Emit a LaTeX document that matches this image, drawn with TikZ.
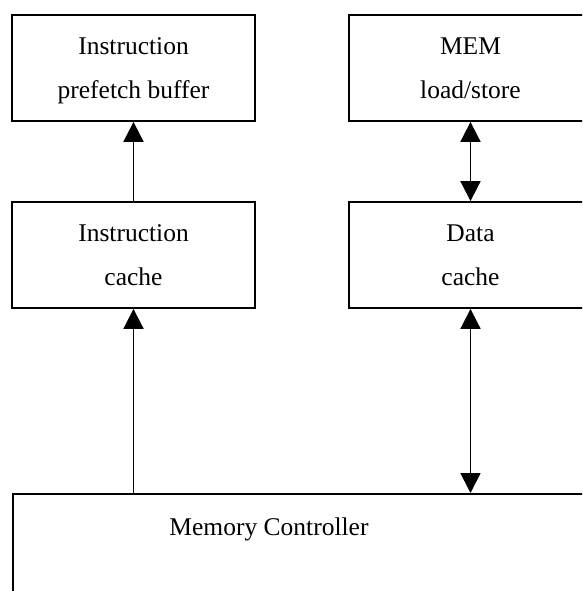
\documentclass[tikz,border=0pt]{standalone}
\usepackage{fontspec}
\setmainfont{Liberation Serif}
\usetikzlibrary{arrows.meta}
\begin{document}
\begin{tikzpicture}[x=1pt,y=1pt,
  blk/.style={draw, line width=1.8pt, minimum width=243pt, minimum height=106pt, inner sep=0pt, align=center, font=\fontsize{25.5}{44}\selectfont},
  conn/.style={line width=1.8pt},
  tip/.tip={Triangle[width=20pt,length=20pt]}]
\useasboundingbox (0,0) rectangle (582,-591);
\clip (0,0) rectangle (582,-591);
\node[blk] (ip) at (133.5,-68) {\strut Instruction\\\strut prefetch buffer};
\node[blk] (ic) at (133.5,-255) {\strut Instruction\\\strut cache};
\node[blk] (ms) at (470.5,-68) {\strut MEM\\\strut load/store};
\node[blk] (dc) at (470.5,-255) {\strut Data\\\strut cache};
\node[draw, line width=1.8pt, minimum width=648pt, minimum height=207pt, inner sep=0pt, anchor=north west] (mc) at (12,-493) {};
\node[font=\fontsize{25.5}{44}\selectfont, anchor=base] (mct) at (269,-535) {Memory Controller};
\draw[conn, -{tip}] (ic.north) -- (ip.south);
\draw[conn, {tip}-{tip}] (ms.south) -- (dc.north);
\draw[conn, -{tip}] (mc.north -| ic.south) -- (ic.south);
\draw[conn, {tip}-{tip}] (dc.south) -- (mc.north -| dc.south);
\end{tikzpicture}
\end{document}
